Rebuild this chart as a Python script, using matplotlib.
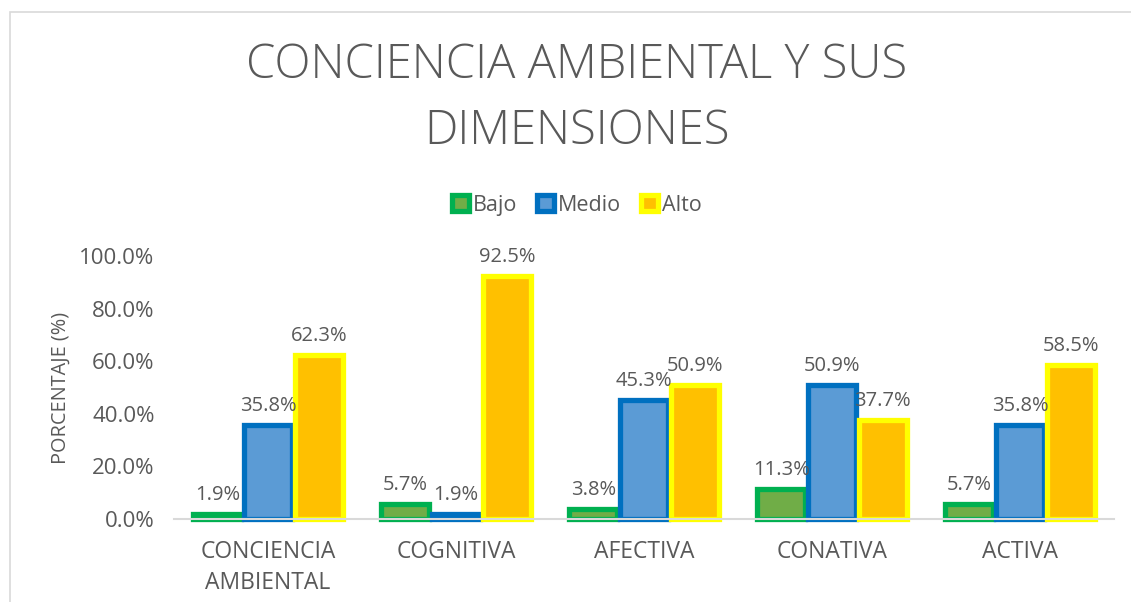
import matplotlib.pyplot as plt
import numpy as np

# Datos del gráfico
categorias = ['CONCIENCIA\nAMBIENTAL', 'COGNITIVA', 'AFECTIVA', 'CONATIVA', 'ACTIVA']
bajo = [1.9, 5.7, 3.8, 11.3, 5.7]
medio = [35.8, 1.9, 45.3, 50.9, 35.8]
alto = [62.3, 92.5, 50.9, 37.7, 58.5]
yticks = [0, 20, 40, 60, 80, 100]

plt.rcParams['font.family'] = ['Open Sans', 'DejaVu Sans']
gris = '#595959'

fig = plt.figure(figsize=(11.31, 6.02), dpi=100)
ax = fig.add_axes([174 / 1131, 1 - 519 / 602, 940 / 1131, 263 / 602])

x = np.arange(len(categorias))
ancho = 0.255
series = [
    ('Bajo', bajo, '#70AD47', '#00B050'),
    ('Medio', medio, '#5B9BD5', '#0070C0'),
    ('Alto', alto, '#FFC000', '#FFFF00'),
]
for i, (nombre, vals, relleno, borde) in enumerate(series):
    pos = x + (i - 1) * (ancho + 0.015)
    ax.bar(pos, vals, ancho, color=relleno, edgecolor=borde, linewidth=3.8,
           label=nombre, clip_on=False)
    for px, v in zip(pos, vals):
        ax.text(px, v + 3.5, f'{v:.1f}%', ha='center', va='bottom',
                fontsize=14.5, color=gris)

ax.set_xlim(-0.5, len(categorias) - 0.5)
ax.set_ylim(0, 100)
ax.set_yticks(yticks)
ax.set_yticklabels([f'{t:.1f}%' for t in yticks], fontsize=16)
ax.set_xticks(x)
ax.set_xticklabels(categorias, fontsize=16.5, linespacing=1.4)
ax.tick_params(axis='both', length=0, labelcolor=gris)
ax.tick_params(axis='x', pad=15)
ax.tick_params(axis='y', pad=14)
for s in ['top', 'right', 'left']:
    ax.spines[s].set_visible(False)
ax.spines['bottom'].set_color('#D9D9D9')
ax.spines['bottom'].set_linewidth(1.5)
ax.set_ylabel('PORCENTAJE (%)', fontsize=14.3, color=gris, labelpad=6)

fig.text(0.51, 1 - 99 / 602, 'CONCIENCIA AMBIENTAL Y SUS\nDIMENSIONES', ha='center',
         va='center', fontsize=34, color=gris, fontweight='light',
         linespacing=1.47)

leg = fig.legend(loc='center', bbox_to_anchor=(0.51, 1 - 205 / 602), ncol=3,
                 frameon=False, fontsize=15.5, handlelength=0.8, handleheight=0.8,
                 handletextpad=0.2, columnspacing=0.9)
for t in leg.get_texts():
    t.set_color(gris)

# marco del gráfico
fig.patches.append(plt.Rectangle((10 / 1131, -0.1), 1.2, 1 - 12 / 602 + 0.1,
                                 transform=fig.transFigure, fill=False,
                                 edgecolor='#D9D9D9', linewidth=1.2))

fig.savefig('out.png', dpi=100)
